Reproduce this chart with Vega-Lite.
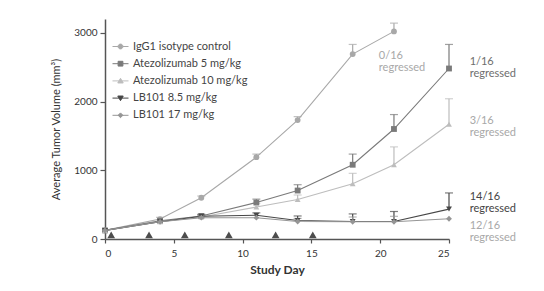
{
  "$schema": "https://vega.github.io/schema/vega-lite/v6.json",
  "autosize": "none",
  "width": 344,
  "height": 220,
  "padding": {"left": 105, "top": 19, "right": 95, "bottom": 52},
  "background": "white",
  "config": {
    "font": "Lato",
    "view": {"stroke": null},
    "axis": {"grid": false, "domainColor": "#555", "domainWidth": 1.5, "tickColor": "#555", "tickWidth": 1.2, "labelColor": "#333", "labelFontSize": 10, "titleColor": "#333", "titleFontSize": 11},
    "legend": {"orient": "none", "legendX": 7, "legendY": 19, "title": null, "symbolSize": 256, "symbolStrokeWidth": 1, "symbolOpacity": 1, "labelFontSize": 11, "labelColor": "#444", "labelOffset": 4, "rowPadding": 3.2, "labelLimit": 200}
  },
  "datasets": {
    "tumor": [
      {"series": "IgG1 isotype control", "day": 0, "vol": 125, "err": null},
      {"series": "IgG1 isotype control", "day": 4, "vol": 290, "err": 315},
      {"series": "IgG1 isotype control", "day": 7, "vol": 600, "err": 625},
      {"series": "IgG1 isotype control", "day": 11, "vol": 1190, "err": 1235},
      {"series": "IgG1 isotype control", "day": 14, "vol": 1730, "err": 1780},
      {"series": "IgG1 isotype control", "day": 18, "vol": 2690, "err": 2830},
      {"series": "IgG1 isotype control", "day": 21, "vol": 3020, "err": 3140},
      {"series": "Atezolizumab 5 mg/kg", "day": 0, "vol": 125, "err": null},
      {"series": "Atezolizumab 5 mg/kg", "day": 4, "vol": 265, "err": null},
      {"series": "Atezolizumab 5 mg/kg", "day": 7, "vol": 335, "err": 360},
      {"series": "Atezolizumab 5 mg/kg", "day": 11, "vol": 530, "err": 580},
      {"series": "Atezolizumab 5 mg/kg", "day": 14, "vol": 705, "err": 790},
      {"series": "Atezolizumab 5 mg/kg", "day": 18, "vol": 1080, "err": 1235},
      {"series": "Atezolizumab 5 mg/kg", "day": 21, "vol": 1600, "err": 1810},
      {"series": "Atezolizumab 5 mg/kg", "day": 25, "vol": 2480, "err": 2830},
      {"series": "Atezolizumab 10 mg/kg", "day": 0, "vol": 125, "err": null},
      {"series": "Atezolizumab 10 mg/kg", "day": 4, "vol": 250, "err": null},
      {"series": "Atezolizumab 10 mg/kg", "day": 7, "vol": 320, "err": 345},
      {"series": "Atezolizumab 10 mg/kg", "day": 11, "vol": 465, "err": 520},
      {"series": "Atezolizumab 10 mg/kg", "day": 14, "vol": 575, "err": 640},
      {"series": "Atezolizumab 10 mg/kg", "day": 18, "vol": 805, "err": 955},
      {"series": "Atezolizumab 10 mg/kg", "day": 21, "vol": 1080, "err": 1340},
      {"series": "Atezolizumab 10 mg/kg", "day": 25, "vol": 1670, "err": 2040},
      {"series": "LB101 8.5 mg/kg", "day": 0, "vol": 125, "err": null},
      {"series": "LB101 8.5 mg/kg", "day": 4, "vol": 250, "err": null},
      {"series": "LB101 8.5 mg/kg", "day": 7, "vol": 330, "err": 350},
      {"series": "LB101 8.5 mg/kg", "day": 11, "vol": 345, "err": 380},
      {"series": "LB101 8.5 mg/kg", "day": 14, "vol": 270, "err": 335},
      {"series": "LB101 8.5 mg/kg", "day": 18, "vol": 255, "err": 365},
      {"series": "LB101 8.5 mg/kg", "day": 21, "vol": 255, "err": 400},
      {"series": "LB101 8.5 mg/kg", "day": 25, "vol": 435, "err": 670},
      {"series": "LB101 17 mg/kg", "day": 0, "vol": 125, "err": null},
      {"series": "LB101 17 mg/kg", "day": 4, "vol": 250, "err": null},
      {"series": "LB101 17 mg/kg", "day": 7, "vol": 310, "err": null},
      {"series": "LB101 17 mg/kg", "day": 11, "vol": 310, "err": null},
      {"series": "LB101 17 mg/kg", "day": 14, "vol": 255, "err": 300},
      {"series": "LB101 17 mg/kg", "day": 18, "vol": 250, "err": 320},
      {"series": "LB101 17 mg/kg", "day": 21, "vol": 250, "err": 330},
      {"series": "LB101 17 mg/kg", "day": 25, "vol": 295, "err": null}
    ],
    "dosing": [
      {"day": 0.45}, {"day": 3.2}, {"day": 5.8}, {"day": 9.0}, {"day": 12.4}, {"day": 15.1}
    ],
    "notes": [
      {"label": ["0/16", "regressed"], "day": 19.9, "vol": 2660, "tone": "light"},
      {"label": ["1/16", "regressed"], "day": 26.5, "vol": 2570, "tone": "mid"},
      {"label": ["3/16", "regressed"], "day": 26.5, "vol": 1710, "tone": "light"},
      {"label": ["14/16", "regressed"], "day": 26.5, "vol": 610, "tone": "dark"},
      {"label": ["12/16", "regressed"], "day": 26.5, "vol": 195, "tone": "light"}
    ]
  },
  "layer": [
    {
      "mark": {"type": "rule", "color": "#b5b5b5", "strokeWidth": 1, "strokeDash": [1.5,1.5,1.5,1.5,1.5,1.5,1.5,1.5,1.5,1.5,1.5,1.5,1.5,13.5]},
      "encoding": {
        "x": {"datum": 0.55, "type": "quantitative"},
        "x2": {"datum": 24.1},
        "y": {"datum": 3000, "type": "quantitative"}
      }
    },
    {
      "mark": {"type": "text", "text": "Cutoff", "align": "left", "baseline": "middle", "fontSize": 11, "color": "#444"},
      "encoding": {
        "x": {"datum": 24.7, "type": "quantitative"},
        "y": {"datum": 3000, "type": "quantitative"}
      }
    },
    {
      "data": {"name": "tumor"},
      "mark": {"type": "point", "filled": true, "size": 0, "opacity": 1},
      "encoding": {
        "x": {"field": "day", "type": "quantitative",
          "scale": {"domain": [0, 25], "nice": false},
          "axis": {"values": [0, 5, 10, 15, 20, 25], "title": "Study Day", "titleFontWeight": "bold", "titleFontSize": 12, "titlePadding": 6, "labelPadding": 5, "tickSize": 4}},
        "y": {"field": "vol", "type": "quantitative",
          "scale": {"domain": [0, 3200], "nice": false},
          "axis": {"values": [0, 1000, 2000, 3000], "format": "d", "title": "Average Tumor Volume (mm³)", "titleFontWeight": "normal", "titlePadding": 12, "tickSize": 5, "labelPadding": 3}},
        "color": {"field": "series", "type": "nominal",
          "scale": {"domain": ["IgG1 isotype control", "Atezolizumab 5 mg/kg", "Atezolizumab 10 mg/kg", "LB101 8.5 mg/kg", "LB101 17 mg/kg"],
                    "range": ["#a8a8a8", "#7a7a7a", "#bdbdbd", "#474747", "#959595"]},
          "legend": {"encode": {"symbols": {"update": {"stroke": {"scale": "color", "field": "value"}, "strokeWidth": {"value": 1}, "size": {"value": 256}}}}}},
        "shape": {"field": "series", "type": "nominal",
          "scale": {"domain": ["IgG1 isotype control", "Atezolizumab 5 mg/kg", "Atezolizumab 10 mg/kg", "LB101 8.5 mg/kg", "LB101 17 mg/kg"],
                    "range": [
                      "M-1,0H-0.3M0.3,0H1M-0.3,0A0.3,0.3,0,1,1,0.3,0A0.3,0.3,0,1,1,-0.3,0Z",
                      "M-1,0H-0.3M0.3,0H1M-0.3,-0.3H0.3V0.3H-0.3Z",
                      "M-1,0H1M0,-0.32L0.34,0.26H-0.34Z",
                      "M-1,0H1M0,0.32L0.34,-0.26H-0.34Z",
                      "M-1,0H1M0,-0.3L0.3,0L0,0.3L-0.3,0Z"]},
          "legend": {"encode": {"symbols": {"update": {"stroke": {"scale": "color", "field": "value"}, "strokeWidth": {"value": 1}, "size": {"value": 256}}}}}}
      }
    },
    {
      "data": {"name": "tumor"},
      "transform": [{"filter": "datum.err != null"}],
      "mark": {"type": "rule", "strokeWidth": 1.2},
      "encoding": {
        "x": {"field": "day", "type": "quantitative"},
        "y": {"field": "vol", "type": "quantitative"},
        "y2": {"field": "err"},
        "color": {"field": "series", "type": "nominal"}
      }
    },
    {
      "data": {"name": "tumor"},
      "transform": [{"filter": "datum.err != null"}],
      "mark": {"type": "tick", "orient": "horizontal", "size": 8, "thickness": 1.2},
      "encoding": {
        "x": {"field": "day", "type": "quantitative"},
        "y": {"field": "err", "type": "quantitative"},
        "color": {"field": "series", "type": "nominal"}
      }
    },
    {
      "data": {"name": "tumor"},
      "mark": {"type": "line", "strokeWidth": 1.1},
      "encoding": {
        "x": {"field": "day", "type": "quantitative"},
        "y": {"field": "vol", "type": "quantitative"},
        "color": {"field": "series", "type": "nominal"},
        "detail": {"field": "series"}
      }
    },
    {
      "data": {"name": "tumor"},
      "mark": {"type": "point", "filled": true, "size": 34, "opacity": 1},
      "encoding": {
        "x": {"field": "day", "type": "quantitative"},
        "y": {"field": "vol", "type": "quantitative"},
        "color": {"field": "series", "type": "nominal"},
        "shape": {"condition": [
          {"test": "datum.series == 'Atezolizumab 5 mg/kg'", "value": "square"},
          {"test": "datum.series == 'Atezolizumab 10 mg/kg'", "value": "triangle-up"},
          {"test": "datum.series == 'LB101 8.5 mg/kg'", "value": "triangle-down"},
          {"test": "datum.series == 'LB101 17 mg/kg'", "value": "diamond"}], "value": "circle"}
      }
    },
    {
      "data": {"name": "dosing"},
      "mark": {"type": "point", "shape": "triangle-up", "filled": true, "size": 60, "color": "#4d4d4d", "opacity": 1},
      "encoding": {
        "x": {"field": "day", "type": "quantitative"},
        "y": {"datum": 60, "type": "quantitative"}
      }
    },
    {
      "data": {"name": "notes"},
      "mark": {"type": "text", "align": "left", "baseline": "middle", "fontSize": 11, "lineHeight": 12},
      "encoding": {
        "x": {"field": "day", "type": "quantitative"},
        "y": {"field": "vol", "type": "quantitative"},
        "text": {"field": "label"},
        "color": {"condition": [{"test": "datum.tone == 'dark'", "value": "#444444"}, {"test": "datum.tone == 'mid'", "value": "#6e6e6e"}], "value": "#a8a8a8"}
      }
    }
  ]
}
